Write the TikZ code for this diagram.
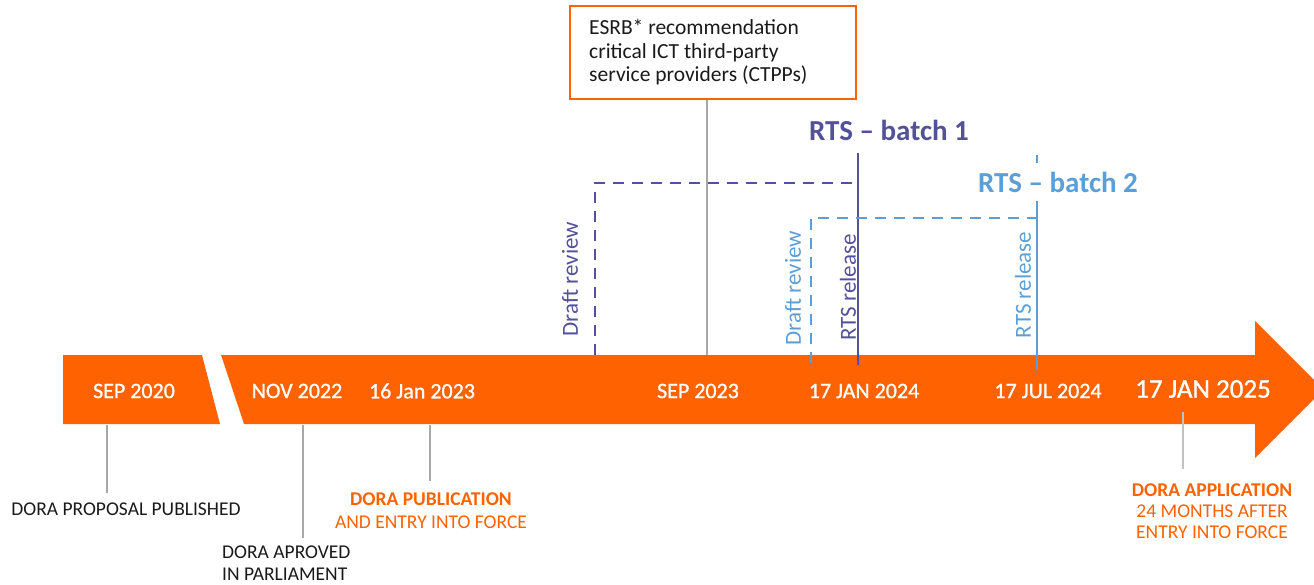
\documentclass[tikz,border=0pt]{standalone}
\usepackage{fontspec}
\setmainfont{Carlito}
\newfontfamily\medfont[FakeBold=1]{Carlito}
\definecolor{ingorange}{HTML}{FF6200}
\definecolor{rtsone}{HTML}{525199}
\definecolor{rtstwo}{HTML}{5B9FD6}
\definecolor{guide}{HTML}{A8A8A8}
\definecolor{ink}{HTML}{1A1A1A}
\tikzset{
  band/.style={fill=ingorange, draw=none},
  datetxt/.style={text=white, inner sep=0pt, font=\medfont\fontsize{22}{24}\selectfont},
  guideline/.style={draw=guide, line width=1.3pt},
  note/.style={text=ink, inner sep=0pt, align=left, font=\fontsize{19.5}{22}\selectfont},
  orangenote/.style={text=ingorange, inner sep=0pt, align=center},
  vertlabel/.style={rotate=90, inner sep=0pt, font=\fontsize{23}{26}\selectfont},
  batchtitle/.style={inner sep=0pt, font=\bfseries\fontsize{29}{32}\selectfont},
  rtsAline/.style={draw=rtsone, line width=2.8pt},
  rtsAdash/.style={draw=rtsone, line width=2.9pt, dash pattern=on 11pt off 8pt},
  rtsBline/.style={draw=rtstwo, line width=2.8pt},
  rtsBdash/.style={draw=rtstwo, line width=2.9pt, dash pattern=on 11pt off 8pt},
  esrbbox/.style={draw=ingorange, line width=2pt, fill=white, minimum width=286pt,
    minimum height=93pt, inner sep=0pt}
}
\begin{document}
\begin{tikzpicture}[x=1pt,y=-1pt]
\useasboundingbox (0,0) rectangle (1314,584);

% timeline band: short piece before the break, then the long arrow
\fill[band] (63,355) -- (202,355) -- (220,424) -- (63,424) -- cycle;
\fill[band] (221,355) -- (1255,355) -- (1255,321) -- (1314,380) -- (1314,399)
  -- (1255,458) -- (1255,424) -- (244,424) -- cycle;

% dates on the band
\node[datetxt] (d2020) at (134,391) {SEP 2020};
\node[datetxt] (d2022) at (297,391) {NOV 2022};
\node[datetxt] (d2023a) at (422,391) {16 Jan 2023};
\node[datetxt] (d2023b) at (698,391) {SEP 2023};
\node[datetxt] (d2024a) at (864,391) {17 JAN 2024};
\node[datetxt] (d2024b) at (1048,391) {17 JUL 2024};
\node[datetxt, font=\medfont\fontsize{27}{30}\selectfont] (d2025) at (1203,389) {17 JAN 2025};

% milestone notes below the band
\node[note] (proposal) at (126,509) {DORA PROPOSAL PUBLISHED};
\node[note, anchor=west] (approved) at (222,563.5) {DORA APROVED\\[0pt]IN PARLIAMENT};
\node[orangenote, font=\fontsize{19.5}{23}\selectfont] (publication) at (431,510.5)
  {{\bfseries DORA PUBLICATION}\\AND ENTRY INTO FORCE};
\node[orangenote, font=\fontsize{19.5}{21.2}\selectfont] (application) at (1212,511)
  {{\bfseries DORA APPLICATION}\\24 MONTHS AFTER\\ENTRY INTO FORCE};

% leader lines
\coordinate (l2020a) at (107,425);  \coordinate (l2020b) at (107,493);
\coordinate (l2022a) at (303,425);  \coordinate (l2022b) at (303,538);
\coordinate (l2023a) at (430,425);  \coordinate (l2023b) at (430,481);
\coordinate (l2025a) at (1183,412); \coordinate (l2025b) at (1183,469);
\draw[guideline] (l2020a) -- (l2020b);
\draw[guideline] (l2022a) -- (l2022b);
\draw[guideline] (l2023a) -- (l2023b);
\draw[guideline, draw=guide!70!white] (l2025a) -- (l2025b);

% ESRB recommendation box
\node[esrbbox] (esrb) at (713,52.5) {};
\node[note, anchor=west, font=\fontsize{21.5}{23.5}\selectfont] (esrbtxt) at (589,52.5)
  {ESRB* recommendation\\critical ICT third-party\\service providers (CTPPs)};
\coordinate (esrbfoot) at (707,355);
\draw[guideline, line width=1.1pt] (esrb.south -| esrbfoot) -- (esrbfoot);

% RTS batch 1
\coordinate (aReviewFoot) at (595,355);
\coordinate (aReviewTop) at (595,183);
\coordinate (aReleaseTop) at (858,153);
\coordinate (aReleaseFoot) at (858,365);
\draw[rtsAdash] (aReviewFoot) -- (aReviewTop) -- (aReviewTop -| aReleaseTop);
\draw[rtsAline] (aReleaseTop) -- (aReleaseFoot);
\node[batchtitle, text=rtsone] (batchA) at (889,130) {RTS – batch 1};
\node[vertlabel, text=rtsone] (aReview) at (570,279) {Draft review};
\node[vertlabel, text=rtsone] (aRelease) at (848,287.5) {RTS release};

% RTS batch 2
\coordinate (bReviewFoot) at (811,363);
\coordinate (bReviewTop) at (811,218);
\coordinate (bReleaseTop) at (1037,155);
\coordinate (bReleaseFoot) at (1037,370);
\draw[rtsBline] (bReleaseTop) -- (bReleaseFoot);
\draw[rtsBdash] (bReviewFoot) -- (bReviewTop) -- (bReviewTop -| bReleaseTop);
\node[batchtitle, text=rtstwo, fill=white, inner ysep=9pt, inner xsep=2pt] (batchB)
  at (1058,182) {RTS – batch 2};
\node[vertlabel, text=rtstwo] (bReview) at (793,288) {Draft review};
\node[vertlabel, text=rtstwo] (bRelease) at (1023,285) {RTS release};
\end{tikzpicture}
\end{document}
